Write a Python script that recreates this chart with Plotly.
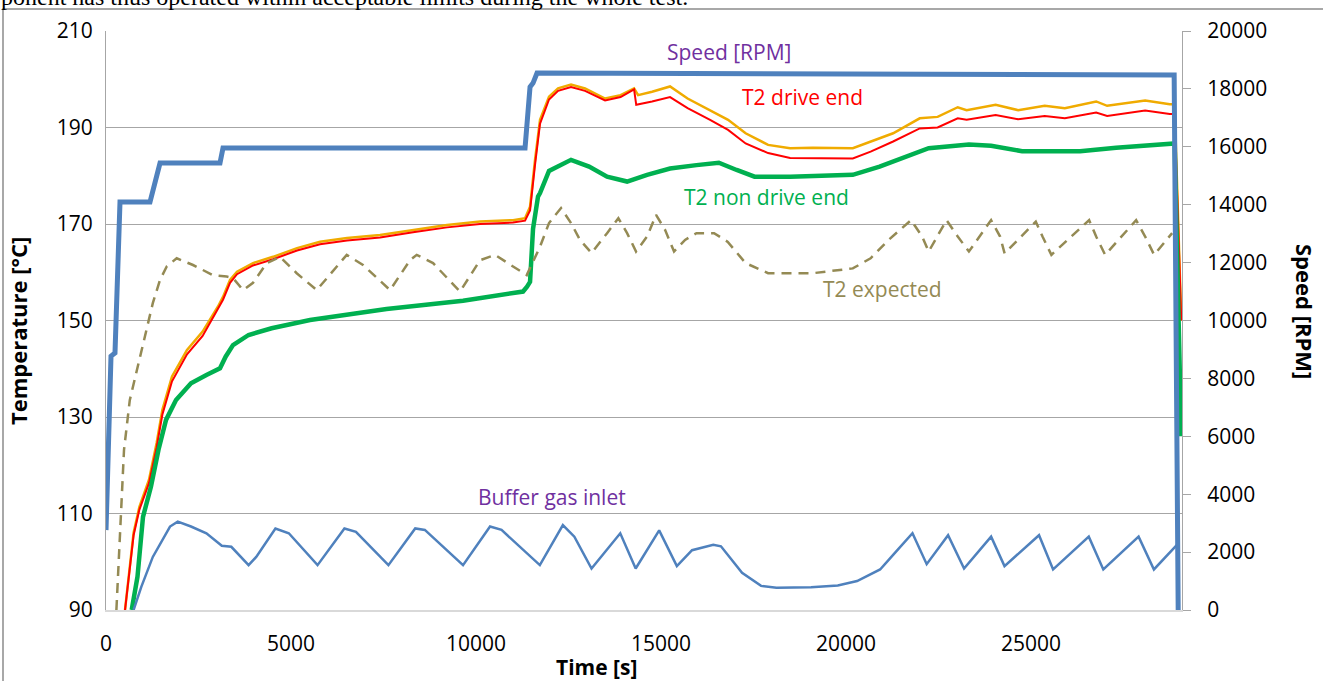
import plotly.graph_objects as go

# ---------------- data ----------------
# Speed [RPM] (right axis)
speed_time = [0, 135, 243, 378, 1189, 1270, 1460, 3081, 3162, 11325, 11460, 11541, 11649, 28868, 28950, 28977]
speed_rpm = [2760, 8770, 8880, 14090, 14090, 14510, 15440, 15440, 15960, 15960, 18070, 18200, 18550, 18480, 660, 0]

# T2 drive end, second trace (orange, unlabeled)
orange_time = [514, 746, 903, 1162, 1368, 1524, 1784, 2189, 2611, 3027, 3162, 3352, 3541, 3973, 4514, 5163,
               5784, 6514, 7406, 8298, 9217, 10109, 11001, 11325, 11460, 11595, 11730, 11973, 12217, 12568,
               12947, 13488, 13907, 14272, 14380, 14758, 15244, 15718, 16326, 16812, 17286, 17894, 18489,
               19097, 20183, 20665, 21273, 21992, 22475, 23019, 23259, 24043, 24651, 25370, 25913, 26760,
               27057, 28084, 28749, 28880, 29060]
orange_temp = [90, 106, 111.4, 117, 124.6, 131.5, 138.4, 143.9, 147.7, 152.9, 154.9, 158.4, 160.1, 161.9, 163.2,
               165, 166.3, 167.1, 167.7, 168.8, 169.8, 170.5, 170.8, 171.2, 173.6, 183.3, 191.6, 196.4, 198.1,
               198.9, 198.1, 196, 196.7, 198.1, 196.7, 197.4, 198.5, 196, 193.6, 191.6, 188.8, 186.4, 185.7,
               185.8, 185.7, 187.1, 188.8, 191.9, 192.2, 194.2, 193.6, 194.7, 193.6, 194.5, 194, 195.4, 194.5,
               195.6, 194.8, 194.8, 150]

# T2 drive end (red)
red_time = [514, 746, 903, 1162, 1368, 1524, 1784, 2189, 2611, 3027, 3162, 3352, 3541, 3973, 4514, 5163,
            5784, 6514, 7406, 8298, 9217, 10109, 11001, 11325, 11460, 11595, 11730, 11973, 12217, 12568,
            12947, 13488, 13907, 14272, 14330, 14758, 15244, 15718, 16326, 16812, 17286, 17894, 18489,
            20183, 20665, 21273, 21992, 22475, 23019, 23259, 24043, 24651, 25370, 25913, 26760, 27057,
            28084, 28749, 28880, 29060]
red_temp = [90, 105.5, 110.8, 116.3, 123.7, 130.5, 137.4, 143, 146.8, 152.3, 154.3, 157.8, 159.6, 161.4, 162.7,
            164.5, 165.8, 166.6, 167.2, 168.3, 169.3, 170, 170.3, 170.7, 172.8, 182.3, 190.8, 195.8, 197.6,
            198.4, 197.6, 195.6, 196.3, 197.9, 194.7, 195.4, 196.3, 194, 191.6, 189.5, 186.7, 184.7, 183.7,
            183.6, 185, 187.1, 189.8, 190, 191.9, 191.6, 192.6, 191.7, 192.4, 191.9, 193.1, 192.4,
            193.5, 192.8, 192.8, 150]

# T2 non drive end (green)
green_time = [695, 851, 1000, 1216, 1419, 1622, 1892, 2297, 2714, 3081, 3233, 3432, 3854, 4476, 5514, 6541,
              7582, 9649, 11271, 11379, 11460, 11541, 11676, 11730, 11973, 12568, 13056, 13542, 14083, 14623,
              15244, 15958, 16563, 17044, 17528, 18489, 20183, 20907, 21515, 22234, 23321, 23921, 24759,
              26326, 27300, 28749, 28880, 29060]
green_temp = [90, 96.9, 109.3, 115.6, 123.2, 129.4, 133.5, 137, 138.7, 140.1, 142.5, 144.9, 147, 148.4, 150.1,
              151.3, 152.4, 154.1, 156, 157, 158, 169, 175.7, 176.4, 181, 183.3, 181.9, 179.8, 178.8, 180.2,
              181.5, 182.2, 182.7, 181.2, 179.8, 179.8, 180.2, 181.9, 183.6, 185.7, 186.5, 186.2, 185.1,
              185.1, 185.8, 186.6, 186.7, 126]

# T2 expected (dashed olive)
expected_time = [281, 384, 487, 643, 851, 1189, 1265, 1460, 1641, 1911, 2351, 2892, 3262, 3433, 3703, 3973,
                 4344, 4703, 5154, 5695, 6236, 6506, 6946, 7677, 8217, 8398, 8839, 9568, 10109, 10514, 11001,
                 11371, 11730, 11973, 12298, 12568, 12811, 13122, 13542, 13847, 14083, 14325, 14623, 14866,
                 15109, 15352, 15650, 15958, 16434, 16804, 17285, 17894, 19097, 20183, 20665, 21148, 21759,
                 22056, 22234, 22715, 23019, 23321, 23921, 24164, 24286, 25129, 25310, 25550, 26570, 26760,
                 27003, 27840, 28084, 28327, 28813]
expected_temp = [90, 106, 123.2, 133.5, 140.4, 151.6, 153.6, 158.4, 161.2, 162.9, 161.5, 159.4, 159.1, 158.8,
                 156.3, 157.8, 161.9, 163.2, 159.8, 156.3, 161.2, 163.6, 161.5, 156.3, 162.5, 163.6, 161.9, 156,
                 162.5, 163.6, 161.2, 159.4, 165.3, 170.2, 173.3, 170.2, 166.7, 164, 168.1, 171.2, 168.1, 164.3,
                 167.4, 171.9, 168.8, 164.3, 166.7, 168.1, 168.1, 166.3, 161.9, 159.8, 159.8, 160.8, 162.9,
                 166.7, 170.8, 167.4, 164.3, 170.8, 167.4, 164.3, 170.8, 167.4, 163.9, 170.5, 167.4, 163.6,
                 170.8, 167.4, 163.6, 170.8, 167.4, 163.6, 168.1]

# Buffer gas inlet (thin blue)
buffer_time = [746, 954, 1265, 1524, 1730, 1938, 2297, 2714, 3130, 3387, 3854, 4060, 4579, 4941, 5717, 6444,
               6755, 7633, 8357, 8617, 9649, 10379, 10690, 11725, 12347, 12658, 13122, 13898, 14315, 14950,
               15428, 15839, 16412, 16620, 17190, 17704, 18120, 19055, 19777, 20299, 20921, 21327, 21796,
               22180, 22758, 23190, 23921, 24283, 25216, 25596, 26561, 26953, 27907, 28321, 28943]
buffer_temp = [90, 94.8, 101, 104.5, 107.3, 108.3, 107.3, 105.9, 103.3, 103.1, 99.3, 101, 106.9, 105.9, 99.3,
               106.9, 106.2, 99.3, 106.9, 106.6, 99.3, 107.3, 106.6, 99.3, 107.6, 105.2, 98.6, 105.9, 98.6,
               106.5, 99.1, 102.4, 103.5, 103.2, 97.7, 95, 94.6, 94.7, 95.1, 96, 98.4, 101.9, 105.9, 99.5,
               105.5, 98.6, 105.2, 99.1, 105.5, 98.4, 105.2, 98.4, 105.2, 98.4, 103.5]

x_ticks = [0, 5000, 10000, 15000, 20000, 25000]
y_ticks = [90, 110, 130, 150, 170, 190, 210]
y2_ticks = [0, 2000, 4000, 6000, 8000, 10000, 12000, 14000, 16000, 18000, 20000]

# ---------------- figure ----------------
FONT = "Open Sans"
fig = go.Figure()

fig.add_trace(go.Scatter(x=orange_time, y=orange_temp, mode="lines", name="T2 drive end B",
                         line=dict(color="#F0AB00", width=2.5)))
fig.add_trace(go.Scatter(x=red_time, y=red_temp, mode="lines", name="T2 drive end",
                         line=dict(color="#FF0000", width=2)))
fig.add_trace(go.Scatter(x=green_time, y=green_temp, mode="lines", name="T2 non drive end",
                         line=dict(color="#00B050", width=4.5)))
fig.add_trace(go.Scatter(x=expected_time, y=expected_temp, mode="lines", name="T2 expected",
                         line=dict(color="#948A54", width=2.5, dash="10px,7px")))
fig.add_trace(go.Scatter(x=buffer_time, y=buffer_temp, mode="lines", name="Buffer gas inlet",
                         line=dict(color="#4F81BD", width=2.5)))
fig.add_trace(go.Scatter(x=speed_time, y=speed_rpm, mode="lines", name="Speed [RPM]", yaxis="y2",
                         line=dict(color="#4F81BD", width=5)))

W, H = 1323, 681
pw, ph = 1076, 579
L, T = 106, 31
R = W - L - pw
B = H - T - ph


def px(xs):
    return (xs - L) / pw


def py(ys):
    return (H - B - ys) / ph


annotations = [
    dict(text="Speed [RPM]", x=16840, y=205.6, font=dict(color="#7030A0", size=21)),
    dict(text="T2 drive end", x=18810, y=196.3, font=dict(color="#FF0000", size=21)),
    dict(text="T2 non drive end", x=17840, y=175.6, font=dict(color="#00B050", size=21)),
    dict(text="T2 expected", x=20975, y=156.5, font=dict(color="#948A54", size=21)),
    dict(text="Buffer gas inlet", x=12055, y=113.4, font=dict(color="#7030A0", size=21)),
]
for a in annotations:
    a.update(xref="x", yref="y", showarrow=False, xanchor="center", yanchor="middle")

annotations += [
    dict(text="<b>Temperature [°C]</b>", xref="paper", yref="paper", x=px(18), y=py(331), textangle=-90,
         xanchor="center", yanchor="middle", showarrow=False, font=dict(size=22, color="#000000")),
    dict(text="<b>Speed [RPM]</b>", xref="paper", yref="paper", x=px(1305), y=py(311), textangle=90,
         xanchor="center", yanchor="middle", showarrow=False, font=dict(size=22, color="#000000")),
    dict(text="<b>Time [s]</b>", xref="paper", yref="paper", x=px(596), y=py(667),
         xanchor="center", yanchor="middle", showarrow=False, font=dict(size=21, color="#000000")),
    dict(text="ponent has thus operated within acceptable limits during the whole test.", xref="paper",
         yref="paper", x=px(-1), y=py(12), xanchor="left", yanchor="bottom", showarrow=False,
         font=dict(family="Liberation Serif", size=24, color="#000000")),
]

fig.update_layout(
    width=W, height=H,
    margin=dict(l=L, r=R, t=T, b=B, pad=0),
    paper_bgcolor="white", plot_bgcolor="white",
    showlegend=False,
    font=dict(family=FONT, size=21, color="#000000"),
    annotations=annotations,
    shapes=[dict(type="rect", xref="paper", yref="paper", x0=px(3), x1=px(1340), y0=py(700), y1=py(9),
                 line=dict(color="#8C8C8C", width=1.5), fillcolor="rgba(0,0,0,0)", layer="below")],
    xaxis=dict(range=[0, 29080], tickvals=x_ticks, ticktext=[str(v) for v in x_ticks],
               showgrid=False, zeroline=False, showline=True, linecolor="#D9D9D9", linewidth=2,
               ticks="", ticklabelstandoff=14, tickfont=dict(size=21, family=FONT)),
    yaxis=dict(range=[90, 210], tickvals=y_ticks, ticktext=[str(v) for v in y_ticks],
               showgrid=True, gridcolor="#A6A6A6", gridwidth=1, zeroline=False,
               showline=True, linecolor="#A6A6A6", linewidth=1, ticks="", ticklabelstandoff=8,
               tickfont=dict(size=21, family=FONT)),
    yaxis2=dict(range=[0, 20000], tickvals=y2_ticks, ticktext=[str(v) for v in y2_ticks],
                overlaying="y", side="right", showgrid=False, zeroline=False,
                showline=True, linecolor="#A6A6A6", linewidth=1, ticks="outside", ticklen=8,
                tickcolor="#A6A6A6", ticklabelstandoff=12, tickfont=dict(size=21, family=FONT)),
)

fig.write_html("out.html", config={"displayModeBar": False},
               post_script="document.body.style.margin='0px';")
